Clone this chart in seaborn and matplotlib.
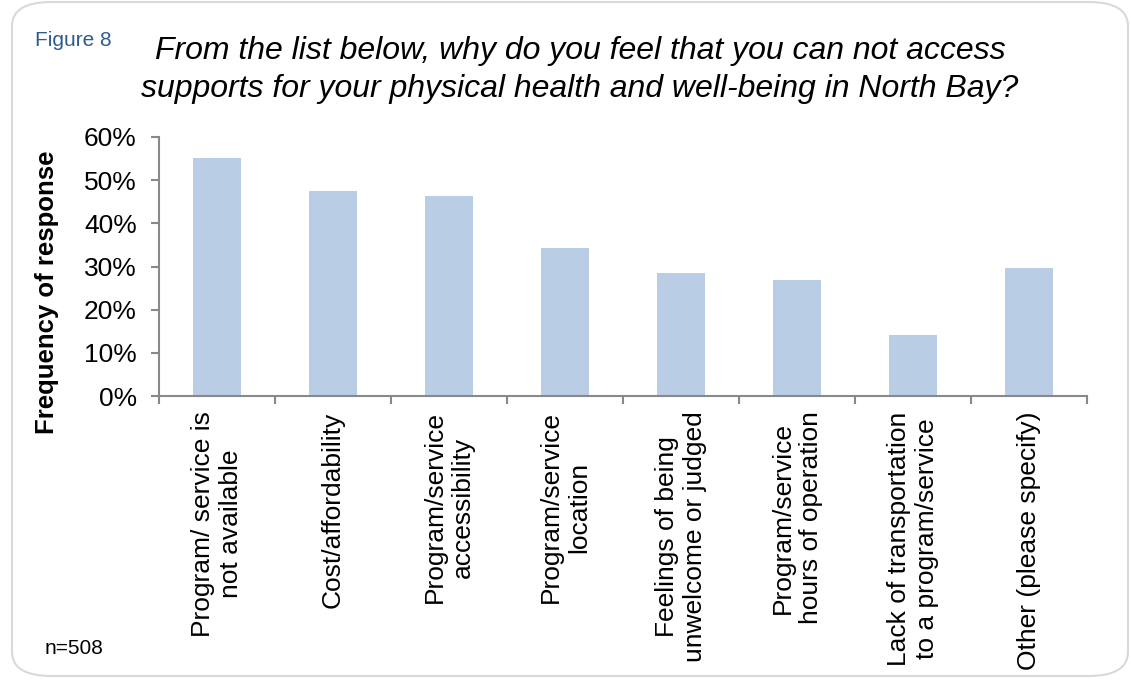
import matplotlib
matplotlib.use("Agg")
import matplotlib.pyplot as plt
import seaborn as sns
import pandas as pd
from matplotlib.patches import FancyBboxPatch
from matplotlib.ticker import FixedLocator, PercentFormatter

categories = [
    "Program/ service is\nnot available",
    "Cost/affordability",
    "Program/service\naccessibility",
    "Program/service\nlocation",
    "Feelings of being\nunwelcome or judged",
    "Program/service\nhours of operation",
    "Lack of transportation\nto a program/service",
    "Other (please specify)",
]
values = [55.1, 47.4, 46.4, 34.2, 28.5, 26.8, 14.1, 29.7]
y_ticks = [0, 10, 20, 30, 40, 50, 60]

title = ("From the list below, why do you feel that you can not access\n"
         "supports for your physical health and well-being in North Bay?")
ylabel = "Frequency of response"
fig_label = "Figure 8"
note = "n=508"

sns.set_style("white")
plt.rcParams['font.family'] = ['Liberation Sans', 'DejaVu Sans']
plt.rcParams['text.color'] = 'black'
plt.rcParams['xtick.color'] = 'black'
plt.rcParams['ytick.color'] = 'black'

df = pd.DataFrame({"cat": categories, "val": values})

fig = plt.figure(figsize=(11.31, 6.86), dpi=100)
W, H = 1131, 686

# rounded frame
frame = FancyBboxPatch((12 / W, 10 / H), (1128 - 12) / W, (684 - 10) / H,
                       boxstyle="round,pad=0,rounding_size=0.035",
                       transform=fig.transFigure, facecolor="none",
                       edgecolor="#D9D9D9", linewidth=1.5, zorder=-1)
fig.patches.append(frame)

ax = fig.add_axes([159 / W, 1 - 396 / H, (1087 - 159) / W, (396 - 137) / H])
ax.set_facecolor("none")
sns.barplot(data=df, x="cat", y="val", color="#B9CDE5", width=0.41,
            saturation=1, ax=ax, edgecolor="none")

ax.set_xlim(-0.5, len(categories) - 0.5)
ax.set_ylim(0, 60)
ax.set_yticks(y_ticks)
ax.yaxis.set_major_formatter(PercentFormatter(decimals=0))
ax.set_xlabel("")
ax.set_ylabel("")

for s in ["top", "right"]:
    ax.spines[s].set_visible(False)
for s in ["left", "bottom"]:
    ax.spines[s].set_color("#898989")
    ax.spines[s].set_linewidth(1.5)

ax.set_xticks(range(len(categories)))
ax.set_xticklabels(categories, rotation=90, va="top", ha="center",
                   fontsize=19, multialignment="center", linespacing=1.25)
ax.xaxis.set_minor_locator(FixedLocator([i - 0.5 for i in range(len(categories) + 1)]))
ax.tick_params(axis="x", which="major", length=0, pad=11)
ax.tick_params(axis="x", which="minor", length=6, width=1.5, color="#898989", direction="out", bottom=True)
ax.tick_params(axis="y", which="major", length=6, width=1.5, color="#898989",
               direction="out", left=True, labelsize=19, pad=10)

fig.text(580 / W, 1 - 70 / H, title, ha="center", va="center", fontsize=23,
         style="italic", linespacing=1.35)
fig.text(35 / W, 1 - 40 / H, fig_label, ha="left", va="center", fontsize=15,
         color="#2E5B8E")
fig.text(45 / W, 1 - 648 / H, note, ha="left", va="center", fontsize=15)
fig.text(47 / W, 1 - 292 / H, ylabel, ha="center", va="center", rotation=90,
         fontsize=18.5, fontweight="bold")

fig.savefig("out.png", dpi=100, facecolor="white")
